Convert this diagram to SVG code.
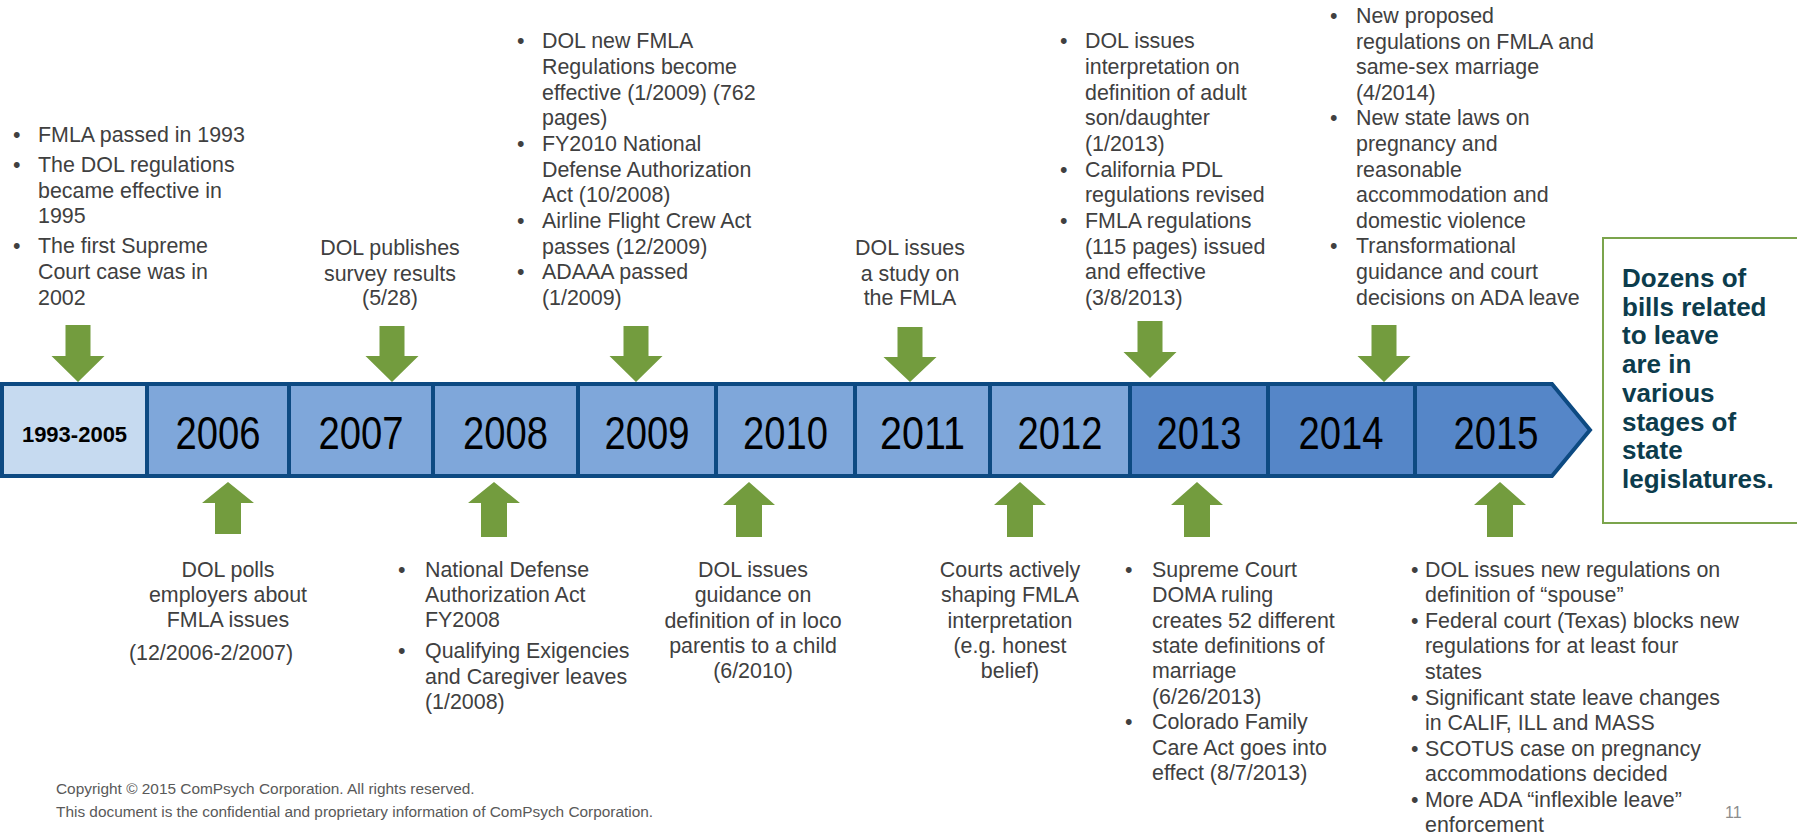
<svg xmlns="http://www.w3.org/2000/svg" width="1797" height="835" viewBox="0 0 1797 835">
<style>
.t{font-family:"Liberation Sans",Arial,sans-serif;font-size:21.4px;fill:#404040}
.c{text-anchor:middle}
.yr{font-family:"Liberation Sans Narrow","Liberation Sans",Arial,sans-serif;font-size:47px;fill:#000;text-anchor:middle}
.yb{font-family:"Liberation Sans",Arial,sans-serif;font-size:22px;font-weight:bold;fill:#000;text-anchor:middle}
.box{stroke:#0d4a82;stroke-width:4;stroke-linejoin:miter}
.l{fill:#c6daf0}.m{fill:#7fa7da}.d{fill:#5586c8}
.arr{fill:#739c3e}
.note{font-family:"Liberation Sans",Arial,sans-serif;font-size:26px;font-weight:bold;fill:#0c3c4c}
.copy{font-family:"Liberation Sans",Arial,sans-serif;font-size:15.4px;fill:#595959}
</style>
<rect width="1797" height="835" fill="#fff"/>

<g id="timeline">
<g id="y1993"><rect class="box l" x="2" y="384" width="145" height="92"/><text class="yb" x="74.5" y="442">1993-2005</text></g>
<g id="y2006"><rect class="box m" x="147" y="384" width="142" height="92"/><text class="yr" x="218" y="449" textLength="85" lengthAdjust="spacingAndGlyphs">2006</text></g>
<g id="y2007"><rect class="box m" x="289" y="384" width="144" height="92"/><text class="yr" x="361" y="449" textLength="85" lengthAdjust="spacingAndGlyphs">2007</text></g>
<g id="y2008"><rect class="box m" x="433" y="384" width="145" height="92"/><text class="yr" x="505.5" y="449" textLength="85" lengthAdjust="spacingAndGlyphs">2008</text></g>
<g id="y2009"><rect class="box m" x="578" y="384" width="138" height="92"/><text class="yr" x="647" y="449" textLength="85" lengthAdjust="spacingAndGlyphs">2009</text></g>
<g id="y2010"><rect class="box m" x="716" y="384" width="139" height="92"/><text class="yr" x="785.5" y="449" textLength="85" lengthAdjust="spacingAndGlyphs">2010</text></g>
<g id="y2011"><rect class="box m" x="855" y="384" width="135" height="92"/><text class="yr" x="922.5" y="449" textLength="85" lengthAdjust="spacingAndGlyphs">2011</text></g>
<g id="y2012"><rect class="box m" x="990" y="384" width="140" height="92"/><text class="yr" x="1060" y="449" textLength="85" lengthAdjust="spacingAndGlyphs">2012</text></g>
<g id="y2013"><rect class="box d" x="1130" y="384" width="138" height="92"/><text class="yr" x="1199" y="449" textLength="85" lengthAdjust="spacingAndGlyphs">2013</text></g>
<g id="y2014"><rect class="box d" x="1268" y="384" width="147" height="92"/><text class="yr" x="1341" y="449" textLength="85" lengthAdjust="spacingAndGlyphs">2014</text></g>
<g id="y2015"><polygon class="box d" points="1415,384 1552,384 1590,430 1552,476 1415,476"/><text class="yr" x="1496" y="449" textLength="85" lengthAdjust="spacingAndGlyphs">2015</text></g>
</g>

<g id="connectors">
<path class="arr" d="M65.5,325 H90.5 V356 H104.5 L78,382 L51.5,356 H65.5 Z"/>
<path class="arr" d="M379.5,326 H404.5 V356 H418.5 L392,382 L365.5,356 H379.5 Z"/>
<path class="arr" d="M623.5,326 H648.5 V356 H662.5 L636,382 L609.5,356 H623.5 Z"/>
<path class="arr" d="M897.5,327 H922.5 V357 H936.5 L910,382 L883.5,357 H897.5 Z"/>
<path class="arr" d="M1137.5,321 H1162.5 V352 H1176.5 L1150,378 L1123.5,352 H1137.5 Z"/>
<path class="arr" d="M1371.5,325 H1396.5 V356 H1410.5 L1384,382 L1357.5,356 H1371.5 Z"/>
<path class="arr" d="M215,534 V503 H202 L228,482 L254,503 H241 V534 Z"/>
<path class="arr" d="M481,537 V503 H468 L494,482 L520,503 H507 V537 Z"/>
<path class="arr" d="M736,537 V505 H723 L749,482 L775,505 H762 V537 Z"/>
<path class="arr" d="M1007,537 V505 H994 L1020,482 L1046,505 H1033 V537 Z"/>
<path class="arr" d="M1184,537 V505 H1171 L1197,482 L1223,505 H1210 V537 Z"/>
<path class="arr" d="M1487,537 V505 H1474 L1500,482 L1526,505 H1513 V537 Z"/>
</g>

<g id="n-1993">
<text class="t"><tspan x="13" y="142">•</tspan><tspan x="13" y="172">•</tspan><tspan x="13" y="253.4">•</tspan></text>
<text class="t"><tspan x="38" y="142">FMLA passed in 1993</tspan><tspan x="38" y="172">The DOL regulations</tspan><tspan x="38" y="197.7">became effective in</tspan><tspan x="38" y="223.4">1995</tspan><tspan x="38" y="253.4">The first Supreme</tspan><tspan x="38" y="279.1">Court case was in</tspan><tspan x="38" y="304.8">2002</tspan></text>
</g>

<g id="n-2007">
<text class="t c"><tspan x="390" y="255">DOL publishes</tspan><tspan x="390" y="281">survey results</tspan><tspan x="390" y="305">(5/28)</tspan></text>
</g>

<g id="n-2009">
<text class="t"><tspan x="517" y="48">•</tspan><tspan x="517" y="151">•</tspan><tspan x="517" y="228">•</tspan><tspan x="517" y="279">•</tspan></text>
<text class="t"><tspan x="542" y="48">DOL new FMLA</tspan><tspan x="542" y="74">Regulations become</tspan><tspan x="542" y="99.5">effective (1/2009) (762</tspan><tspan x="542" y="125">pages)</tspan><tspan x="542" y="151">FY2010 National</tspan><tspan x="542" y="176.5">Defense Authorization</tspan><tspan x="542" y="202">Act (10/2008)</tspan><tspan x="542" y="228">Airline Flight Crew Act</tspan><tspan x="542" y="253.5">passes (12/2009)</tspan><tspan x="542" y="279">ADAAA passed</tspan><tspan x="542" y="304.5">(1/2009)</tspan></text>
</g>

<g id="n-2011">
<text class="t c"><tspan x="910" y="255">DOL issues</tspan><tspan x="910" y="281">a study on</tspan><tspan x="910" y="305">the FMLA</tspan></text>
</g>

<g id="n-2013-top">
<text class="t"><tspan x="1060" y="48">•</tspan><tspan x="1060" y="177">•</tspan><tspan x="1060" y="228">•</tspan></text>
<text class="t"><tspan x="1085" y="48">DOL issues</tspan><tspan x="1085" y="74">interpretation on</tspan><tspan x="1085" y="99.5">definition of adult</tspan><tspan x="1085" y="125">son/daughter</tspan><tspan x="1085" y="151">(1/2013)</tspan><tspan x="1085" y="177">California PDL</tspan><tspan x="1085" y="202">regulations revised</tspan><tspan x="1085" y="228">FMLA regulations</tspan><tspan x="1085" y="253.5">(115 pages) issued</tspan><tspan x="1085" y="279">and effective</tspan><tspan x="1085" y="304.5">(3/8/2013)</tspan></text>
</g>

<g id="n-2014-top">
<text class="t"><tspan x="1330" y="23">•</tspan><tspan x="1330" y="125">•</tspan><tspan x="1330" y="253">•</tspan></text>
<text class="t"><tspan x="1356" y="23">New proposed</tspan><tspan x="1356" y="48.5">regulations on FMLA and</tspan><tspan x="1356" y="74">same-sex marriage</tspan><tspan x="1356" y="99.5">(4/2014)</tspan><tspan x="1356" y="125">New state laws on</tspan><tspan x="1356" y="151">pregnancy and</tspan><tspan x="1356" y="176.5">reasonable</tspan><tspan x="1356" y="202">accommodation and</tspan><tspan x="1356" y="227.5">domestic violence</tspan><tspan x="1356" y="253">Transformational</tspan><tspan x="1356" y="279">guidance and court</tspan><tspan x="1356" y="304.5">decisions on ADA leave</tspan></text>
</g>

<g id="n-note">
<rect x="1603" y="238" width="200" height="285" fill="#fff" stroke="#7ba44c" stroke-width="2"/>
<text class="note"><tspan x="1622" y="287">Dozens of</tspan><tspan x="1622" y="315.7">bills related</tspan><tspan x="1622" y="344.4">to leave</tspan><tspan x="1622" y="373.1">are in</tspan><tspan x="1622" y="401.8">various</tspan><tspan x="1622" y="430.5">stages of</tspan><tspan x="1622" y="459.2">state</tspan><tspan x="1622" y="487.9">legislatures.</tspan></text>
</g>

<g id="n-2006">
<text class="t c"><tspan x="228" y="577">DOL polls</tspan><tspan x="228" y="602">employers about</tspan><tspan x="228" y="627">FMLA issues</tspan><tspan x="211" y="660">(12/2006-2/2007)</tspan></text>
</g>

<g id="n-2008">
<text class="t"><tspan x="398" y="577">•</tspan><tspan x="398" y="658">•</tspan></text>
<text class="t"><tspan x="425" y="577">National Defense</tspan><tspan x="425" y="602">Authorization Act</tspan><tspan x="425" y="627">FY2008</tspan><tspan x="425" y="658">Qualifying Exigencies</tspan><tspan x="425" y="683.5">and Caregiver leaves</tspan><tspan x="425" y="709">(1/2008)</tspan></text>
</g>

<g id="n-2010">
<text class="t c"><tspan x="753" y="577">DOL issues</tspan><tspan x="753" y="602">guidance on</tspan><tspan x="753" y="627.5">definition of in loco</tspan><tspan x="753" y="653">parentis to a child</tspan><tspan x="753" y="678">(6/2010)</tspan></text>
</g>

<g id="n-2012">
<text class="t c"><tspan x="1010" y="577">Courts actively</tspan><tspan x="1010" y="602">shaping FMLA</tspan><tspan x="1010" y="627.5">interpretation</tspan><tspan x="1010" y="653">(e.g. honest</tspan><tspan x="1010" y="678">belief)</tspan></text>
</g>

<g id="n-2013-bottom">
<text class="t"><tspan x="1125" y="577">•</tspan><tspan x="1125" y="729">•</tspan></text>
<text class="t"><tspan x="1152" y="577">Supreme Court</tspan><tspan x="1152" y="602">DOMA ruling</tspan><tspan x="1152" y="627.5">creates 52 different</tspan><tspan x="1152" y="653">state definitions of</tspan><tspan x="1152" y="678">marriage</tspan><tspan x="1152" y="703.5">(6/26/2013)</tspan><tspan x="1152" y="729">Colorado Family</tspan><tspan x="1152" y="754.5">Care Act goes into</tspan><tspan x="1152" y="780">effect (8/7/2013)</tspan></text>
</g>

<g id="n-2015-bottom">
<text class="t"><tspan x="1411" y="577">•</tspan><tspan x="1411" y="627.5">•</tspan><tspan x="1411" y="705">•</tspan><tspan x="1411" y="756">•</tspan><tspan x="1411" y="807">•</tspan></text>
<text class="t"><tspan x="1425" y="577">DOL issues new regulations on</tspan><tspan x="1425" y="602">definition of “spouse”</tspan><tspan x="1425" y="627.5">Federal court (Texas) blocks new</tspan><tspan x="1425" y="653">regulations for at least four</tspan><tspan x="1425" y="678.5">states</tspan><tspan x="1425" y="705">Significant state leave changes</tspan><tspan x="1425" y="730">in CALIF, ILL and MASS</tspan><tspan x="1425" y="756">SCOTUS case on pregnancy</tspan><tspan x="1425" y="781">accommodations decided</tspan><tspan x="1425" y="807">More ADA “inflexible leave”</tspan><tspan x="1425" y="832">enforcement</tspan></text>
</g>

<g id="footer">
<text class="copy"><tspan x="56" y="794">Copyright © 2015 ComPsych Corporation. All rights reserved.</tspan><tspan x="56" y="817">This document is the confidential and proprietary information of ComPsych Corporation.</tspan></text>
<text x="1725" y="818" style="font-family:'Liberation Sans',Arial,sans-serif;font-size:16px;fill:#8c8c8c">11</text>
</g>
</svg>
